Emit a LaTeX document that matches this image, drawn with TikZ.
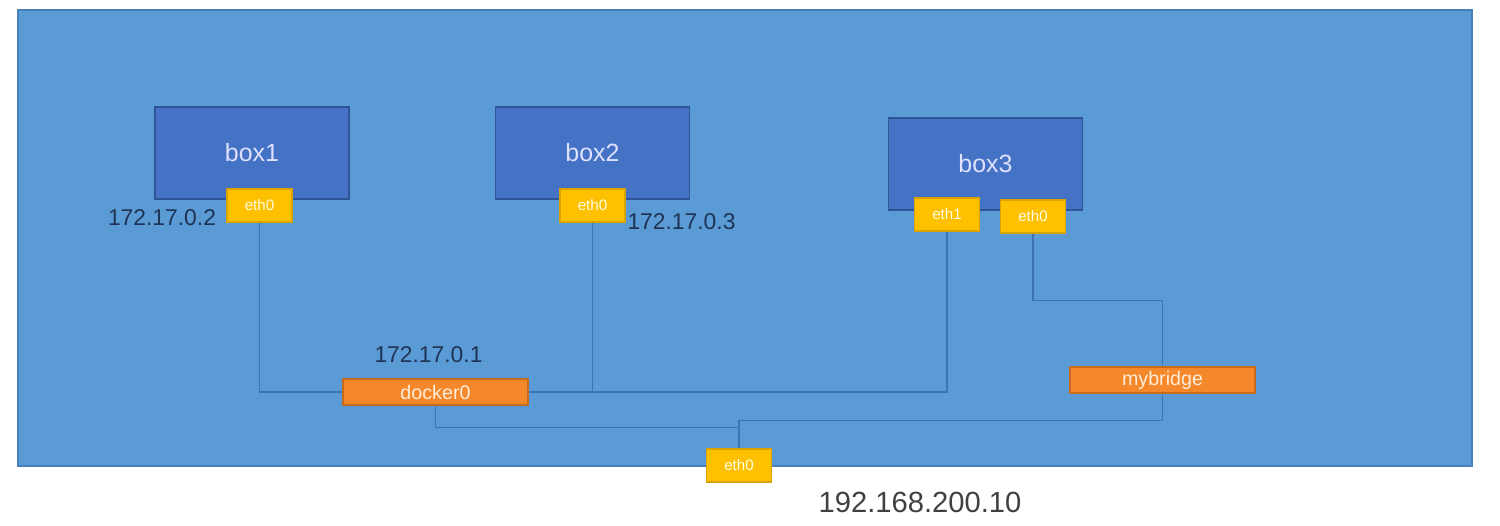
\documentclass[tikz,border=0pt]{standalone}
\usepackage{fontspec}
\setmainfont{Liberation Sans}
\usepackage{xcolor}
\usetikzlibrary{positioning, calc}

\definecolor{hostblue}{HTML}{5B9BD5}
\definecolor{hostline}{HTML}{4A7EBB}
\definecolor{boxblue}{HTML}{4472C4}
\definecolor{boxline}{HTML}{2F5597}
\definecolor{ethyellow}{HTML}{FFC000}
\definecolor{ethline}{HTML}{D9A300}
\definecolor{brorange}{HTML}{F5882A}
\definecolor{brline}{HTML}{C86A1E}
\definecolor{linkblue}{HTML}{3F72B0}
\definecolor{ipnavy}{HTML}{1F3355}

\begin{document}
\begin{tikzpicture}[
    host/.style={rectangle, draw=hostline, fill=hostblue, line width=0.6pt},
    container/.style={rectangle, draw=boxline, fill=boxblue, minimum width=1.94cm, minimum height=0.92cm, text=white!88!blue, font=\fontsize{7.1}{8}\selectfont},
    iface/.style={rectangle, draw=ethline, fill=ethyellow, minimum width=0.65cm, minimum height=0.33cm, inner sep=0pt, text=white!90!yellow, font=\fontsize{4.3}{5}\selectfont},
    bridge/.style={rectangle, draw=brline, fill=brorange, minimum width=1.85cm, minimum height=0.26cm, inner sep=0pt, text=white!85!orange, font=\fontsize{5.6}{6}\selectfont},
    link/.style={draw=linkblue, line width=0.4pt},
    ip/.style={text=ipnavy, inner sep=0pt, font=\fontsize{6.5}{7}\selectfont}
]
\useasboundingbox (0,0) rectangle (15,-5.25);

% Host
\node[host, minimum width=14.54cm, minimum height=4.56cm] (hostbox) at (7.45,-2.38) {};

% Containers
\node[container] (box1) at (2.52,-1.53) {box1};
\node[container] (box2) at (5.925,-1.53) {box2};
\node[container] (box3) at (9.855,-1.64) {box3};

% Links (behind interfaces)
\coordinate (b1down) at (2.595,-3.92);
\coordinate (b2down) at (5.925,-3.92);
\coordinate (b3down) at (9.47,-3.92);

% Interfaces
\node[iface] (b1eth0) at (2.595,-2.055) {eth0};
\node[iface] (b2eth0) at (5.925,-2.055) {eth0};
\node[iface] (b3eth1) at (9.47,-2.145) {eth1};
\node[iface] (b3eth0) at (10.33,-2.165) {eth0};

% Bridges
\node[bridge] (docker0) at (4.355,-3.92) {docker0};
\node[bridge] (mybridge) at (11.625,-3.80) {mybridge};

% Host interface
\node[iface] (heth0) at (7.39,-4.655) {eth0};

% Addresses
\node[ip] (ip1) at (1.62,-2.18) {172.17.0.2};
\node[ip] (ip2) at (6.815,-2.22) {172.17.0.3};
\node[ip] (ipgw) at (4.285,-3.55) {172.17.0.1};
\node[ip, text=black!75, font=\fontsize{8.3}{9}\selectfont] (iphost) at (9.2,-5.02) {192.168.200.10};

\draw[link] (b1eth0.south) |- (docker0.west);
\draw[link] (b2eth0.south) |- (docker0.east);
\draw[link] (b3eth1.south) |- (docker0.east);
\draw[link] (docker0.south) -- ++(0,-0.22) -| (heth0.north);
\draw[link] (heth0.north) -- ++(0,0.28) -| (mybridge.south);
\draw[link] (b3eth0.south) -- ++(0,-0.67) -| (mybridge.north);
\end{tikzpicture}
\end{document}
